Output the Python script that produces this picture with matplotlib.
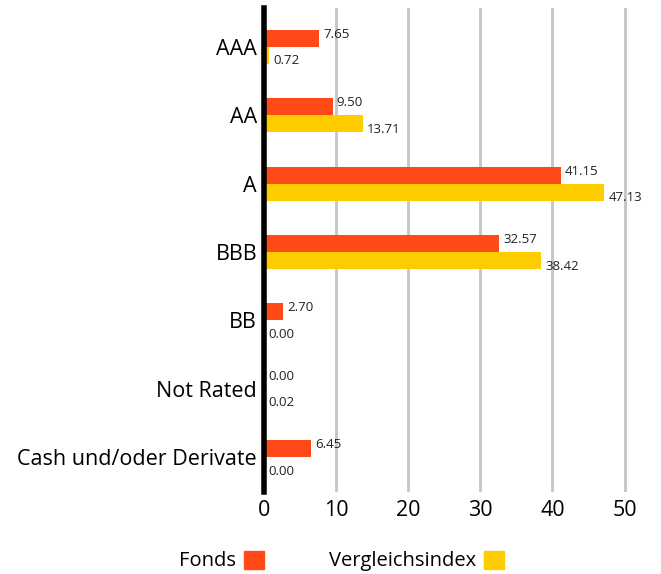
import matplotlib
matplotlib.use('Agg')
import matplotlib.pyplot as plt
import numpy as np
from matplotlib.patches import Patch

# Data
categories = ['AAA', 'AA', 'A', 'BBB', 'BB', 'Not Rated', 'Cash und/oder Derivate']
fonds = [7.65, 9.50, 41.15, 32.57, 2.70, 0.00, 6.45]
index_vals = [0.72, 13.71, 47.13, 38.42, 0.00, 0.02, 0.00]
series_names = ['Fonds', 'Vergleichsindex']
colors = ['#FF4A17', '#FFCC00']
x_ticks = [0, 10, 20, 30, 40, 50]

plt.rcParams['font.family'] = ['Open Sans', 'DejaVu Sans']

fig = plt.figure(figsize=(6.61, 5.74), dpi=100)
ax = fig.add_axes([264 / 661, 1 - 492 / 574, (639 - 264) / 661, (492 - 8) / 574])

y = np.arange(len(categories))
h = 0.25
ax.barh(y - h / 2, fonds, height=h, color=colors[0], zorder=3)
ax.barh(y + h / 2, index_vals, height=h, color=colors[1], zorder=3)

for yi, v in zip(y, fonds):
    ax.text(v + 0.6, yi - h / 2 - 0.06, f'{v:.2f}', va='center', ha='left', fontsize=9.5, color='#222222', zorder=4)
for yi, v in zip(y, index_vals):
    ax.text(v + 0.6, yi + h / 2 + 0.08, f'{v:.2f}', va='center', ha='left', fontsize=9.5, color='#222222', zorder=4)

ax.set_ylim(len(categories) - 0.49, -0.57)
ax.set_xlim(0, 52)
ax.set_yticks(y)
ax.set_yticklabels(categories, fontsize=15.5)
ax.set_xticks(x_ticks)
ax.set_xticklabels([str(t) for t in x_ticks], fontsize=15.5)
ax.tick_params(axis='both', length=0, pad=6)
ax.tick_params(axis='y', pad=5)

ax.grid(axis='x', color='#c4c4c4', linewidth=2, zorder=0)
for s in ['top', 'right', 'bottom']:
    ax.spines[s].set_visible(False)
ax.spines['left'].set_linewidth(4)
ax.spines['left'].set_color('black')
ax.spines['left'].set_zorder(5)

handles = [Patch(color=c) for c in colors]
fig.legend(handles, series_names, loc='center', bbox_to_anchor=(0.517, 1 - 561 / 574),
           ncol=2, frameon=False, markerfirst=False, fontsize=14.5,
           handlelength=1.0, handleheight=1.0, handletextpad=0.4, columnspacing=3.2)

fig.savefig('out.png', dpi=100)
